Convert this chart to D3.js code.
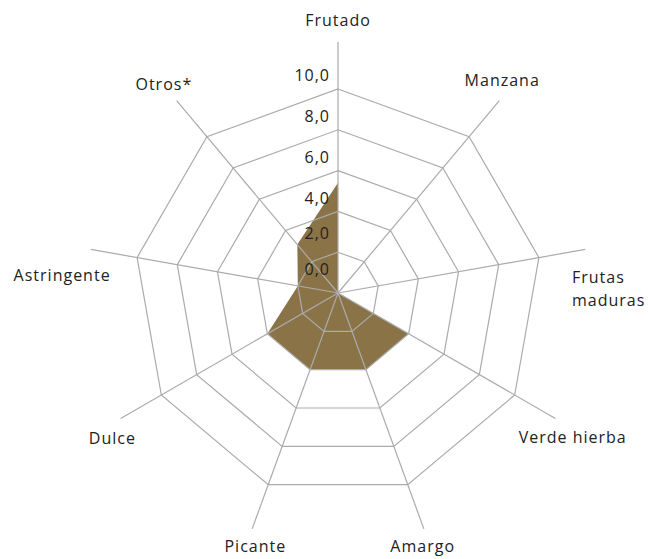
<!DOCTYPE html>
<html>
<head>
<meta charset="utf-8">
<script src="https://cdn.jsdelivr.net/npm/d3@7"></script>
<style>
    body { margin: 0; background: #fff; }
    svg { display: block; font-family: "Open Sans", sans-serif; }
</style>
</head>
<body>
<div id="chart"></div>
<script>
// Datos del perfil sensorial
const categories = ['Frutado', 'Manzana', 'Frutas maduras', 'Verde hierba', 'Amargo', 'Picante', 'Dulce', 'Astringente', 'Otros*'];
const values = [5.4, 0, 0, 4.0, 4.0, 4.0, 4.0, 2.0, 3.1];
const tickValues = [0, 2, 4, 6, 8, 10];
const tickLabels = ['0,0', '2,0', '4,0', '6,0', '8,0', '10,0'];

const width = 648, height = 559;
const cx = 338, cy = 293;

const svg = d3.select('#chart')
    .append('svg')
    .attr('width', width)
    .attr('height', height);

const g = svg.append('g').attr('transform', `translate(${cx},${cy})`);

const r = d3.scaleLinear().domain([0, 10]).range([0, 204]);
const step = 2 * Math.PI / categories.length;
const axisLen = r(10) + 47;
const labelR = 271;

// ajuste fino de etiquetas (como las coloca Excel)
const nudge = {
    'Manzana': [-10, -4],
    'Frutas maduras': [0, 0],
    'Verde hierba': [0, 10],
    'Amargo': [-8, 0],
    'Picante': [10, 0],
    'Dulce': [9, 11],
    'Astringente': [-9, 31]
};

// Área de datos
const area = d3.lineRadial()
    .angle((d, i) => i * step)
    .radius(d => r(d))
    .curve(d3.curveLinearClosed);

g.append('path')
    .attr('d', area(values))
    .attr('fill', '#8b7348');

// Anillos
const ring = d3.lineRadial()
    .angle((d, i) => i * step)
    .radius(d => d)
    .curve(d3.curveLinearClosed);

g.append('g').attr('class', 'rings')
    .selectAll('path')
    .data(tickValues.filter(v => v > 0))
    .join('path')
    .attr('d', v => ring(categories.map(() => r(v))))
    .attr('fill', 'none')
    .attr('stroke', '#ababab')
    .attr('stroke-width', 1.2);

// Ejes
g.append('g').attr('class', 'axes')
    .selectAll('line')
    .data(categories)
    .join('line')
    .attr('x1', 0)
    .attr('y1', 0)
    .attr('x2', (d, i) => axisLen * Math.sin(i * step))
    .attr('y2', (d, i) => -axisLen * Math.cos(i * step))
    .attr('stroke', '#ababab')
    .attr('stroke-width', 1.2);

// Etiquetas de escala
g.append('g').attr('class', 'ticks')
    .selectAll('text')
    .data(tickValues)
    .join('text')
    .attr('x', -8)
    .attr('y', v => -r(v) - 12 - Math.max(0, 4 - v) * 2.5)
    .attr('text-anchor', 'end')
    .attr('dominant-baseline', 'middle')
    .attr('font-size', 16)
    .attr('letter-spacing', 1)
    .attr('fill', '#222')
    .text((v, i) => tickLabels[i]);

// Etiquetas de categorías
const labels = g.append('g').attr('class', 'labels')
    .selectAll('text')
    .data(categories)
    .join('text')
    .attr('x', (d, i) => labelR * Math.sin(i * step) + (nudge[d] ? nudge[d][0] : 0))
    .attr('y', (d, i) => -labelR * Math.cos(i * step) + (nudge[d] ? nudge[d][1] : 0))
    .attr('text-anchor', 'middle')
    .attr('dominant-baseline', 'middle')
    .attr('font-size', 16)
    .attr('letter-spacing', 1)
    .attr('fill', '#222');

labels.each(function(d) {
    const t = d3.select(this);
    if (d === 'Frutas maduras') {
        // dos líneas, alineadas a la izquierda
        const x0 = labelR - 37;
        t.attr('text-anchor', 'start').attr('x', x0).attr('y', -14);
        ['Frutas', 'maduras'].forEach((w, k) => {
            t.append('tspan')
                .attr('x', x0)
                .attr('dy', k === 0 ? 0 : 22.5)
                .text(w);
        });
    } else {
        t.text(d);
    }
});
</script>
</body>
</html>
